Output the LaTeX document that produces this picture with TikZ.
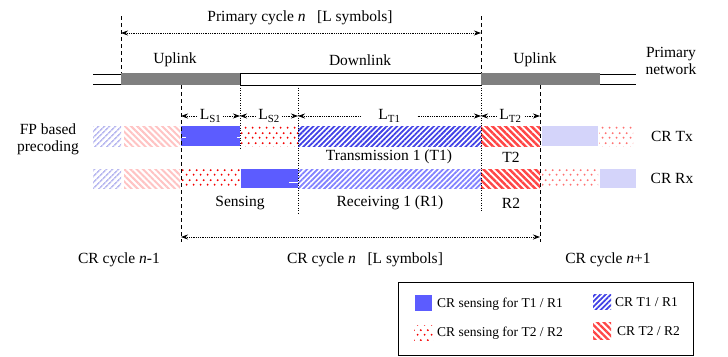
\documentclass[tikz,border=0pt]{standalone}
\usepackage{fontspec}
\setmainfont{Liberation Serif}
\usetikzlibrary{patterns.meta,arrows.meta}
\definecolor{sblue}{RGB}{92,92,255}
\definecolor{hblue}{RGB}{65,65,230}
\definecolor{hbluel}{RGB}{130,130,255}
\definecolor{hred}{RGB}{255,70,70}
\definecolor{dred}{RGB}{245,0,0}
\definecolor{lblue}{RGB}{185,185,240}
\definecolor{lpink}{RGB}{255,195,195}
\definecolor{lsolid}{RGB}{212,212,250}
\definecolor{ldot}{RGB}{255,115,115}
\definecolor{bargrey}{RGB}{128,128,128}
\tikzdeclarepattern{
  name=stagdots,
  type=uncolored,
  bounding box={(0pt,0pt) and (6.6pt,9.4pt)},
  tile size={(6.6pt,9.4pt)},
  code={
    \fill (1.65pt,2.35pt) circle (1.1pt);
    \fill (4.95pt,7.05pt) circle (1.1pt);
  }
}
\tikzset{
  lbl/.style={font=\fontsize{15.5}{17}\selectfont, inner sep=0pt},
  leg/.style={font=\fontsize{13.5}{15}\selectfont, inner sep=0pt, anchor=west},
  dimarrow/.style={densely dotted, line width=0.8pt,
    {Stealth[length=7pt,width=5pt]}-{Stealth[length=7pt,width=5pt]}},
  dimlbl/.style={font=\fontsize{15.5}{17}\selectfont, fill=white, inner xsep=2pt, inner ysep=0pt},
  bnd/.style={line width=0.9pt, dash pattern=on 4pt off 3pt},
  sepline/.style={line width=0.6pt, dash pattern=on 1pt off 1.5pt},
  bhatch/.style={pattern={Lines[angle=45,distance=3.7pt,line width=1.8pt]}, pattern color=hblue},
  bhatchl/.style={pattern={Lines[angle=45,distance=3.7pt,line width=1.8pt]}, pattern color=hbluel},
  rhatch/.style={pattern={Lines[angle=-45,distance=4.6pt,line width=2.4pt]}, pattern color=hred},
  lbhatch/.style={pattern={Lines[angle=45,distance=4pt,line width=1.7pt]}, pattern color=lblue},
  lphatch/.style={pattern={Lines[angle=-45,distance=4.4pt,line width=2pt]}, pattern color=lpink},
  rdots/.style={pattern=stagdots, pattern color=dred},
  ldots/.style={pattern=stagdots, pattern color=ldot},
}
\begin{document}
\begin{tikzpicture}[x=1pt,y=-1pt]
\path[use as bounding box, fill=white] (0,0) rectangle (728,356);

% ---------- primary network bar ----------
\draw[line width=0.8pt] (93,74) -- (121,74) (93,84) -- (121,84);
\draw[line width=0.8pt] (600,74) -- (636,74) (600,84) -- (636,84);
\fill[bargrey] (121,73) rectangle (240,85);
\draw[line width=0.9pt, fill=white] (240,73) rectangle (481,85);
\fill[bargrey] (481,73) rectangle (600,85);

\node[lbl] (ul1) at (175,60) {Uplink};
\node[lbl] (dl) at (360,60) {Downlink};
\node[lbl] (ul2) at (535,60) {Uplink};
\node[lbl, align=center] (pn) at (671,61) {Primary\\network};

% ---------- primary cycle ----------
\coordinate (pa) at (121,16);
\coordinate (pb) at (481,16);
\coordinate (pa2) at (121,73);
\coordinate (pb2) at (481,73);
\draw[bnd] (pa) -- (pa2);
\draw[bnd] (pb) -- (pb2);
\coordinate (pca) at (121,33);
\coordinate (pcb) at (481,33);
\draw[dimarrow] (pca) -- (pcb);
\node[lbl] (pc) at (300,18) {Primary cycle \textit{n}\hspace{0.75em}[L symbols]};

% ---------- CR Tx row ----------
\path[lbhatch] (93,126) rectangle (121,146);
\path[lphatch] (124,126) rectangle (180,146);
\fill[sblue] (181,126) rectangle (240,146);
\path[rdots] (240,126) rectangle (298,146);
\path[bhatch] (298,126) rectangle (481,146);
\path[rhatch] (481,126) rectangle (540,146);
\fill[lsolid] (542,126) rectangle (598,146);
\path[ldots] (599,126) rectangle (633,146);
\draw[white, line width=0.8pt] (181,137) -- (186,137) (237,137) -- (240,137);

% ---------- CR Rx row ----------
\path[lbhatch] (93,169) rectangle (121,188);
\path[lphatch] (124,169) rectangle (180,188);
\path[rdots] (181,169) rectangle (240,188);
\fill[sblue] (241,169) rectangle (298,188);
\path[bhatchl] (298,169) rectangle (481,188);
\path[rhatch] (481,169) rectangle (540,188);
\path[ldots] (542,169) rectangle (598,188);
\fill[lsolid] (600,169) rectangle (636,188);
\draw[white, line width=0.8pt] (289,182) -- (298,182);

% ---------- boundaries ----------
\coordinate (ca) at (181,85);
\coordinate (ca2) at (181,242);
\coordinate (cb) at (540,85);
\coordinate (cb2) at (540,242);
\draw[bnd] (ca) -- (ca2);
\draw[bnd] (cb) -- (cb2);
\coordinate (s1) at (240,85);
\coordinate (s1e) at (240,148);
\coordinate (s2) at (298,85);
\coordinate (s2e) at (298,213);
\coordinate (s3) at (481,85);
\coordinate (s3e) at (481,211);
\draw[sepline] (s1) -- (s1e);
\draw[sepline] (s2) -- (s2e);
\draw[sepline] (s3) -- (s3e);

% ---------- segment lengths ----------
\coordinate (d0) at (181,116);
\coordinate (d1) at (240,116);
\coordinate (d2) at (298,116);
\coordinate (d3) at (481,116);
\coordinate (d4) at (540,116);
\draw[dimarrow] (d0) -- node[dimlbl] (ls1) {L\textsubscript{S1}} (d1);
\draw[dimarrow] (d1) -- node[dimlbl] (ls2) {L\textsubscript{S2}} (d2);
\draw[dimarrow] (d2) -- node[dimlbl, inner xsep=16pt] (lt1) {L\textsubscript{T1}} (d3);
\draw[dimarrow] (d3) -- node[dimlbl] (lt2) {L\textsubscript{T2}} (d4);

% ---------- row labels ----------
\node[lbl, align=center] (fp) at (48,139) {FP based\\precoding};
\node[lbl] (tx) at (672,136) {CR Tx};
\node[lbl] (rx) at (672,178) {CR Rx};
\node[lbl] (t1) at (389,157) {Transmission 1 (T1)};
\node[lbl] (t2) at (511,157) {T2};
\node[lbl] (sens) at (240,203) {Sensing};
\node[lbl] (r1) at (390,203) {Receiving 1 (R1)};
\node[lbl] (r2) at (511,203) {R2};

% ---------- CR cycle ----------
\coordinate (cca) at (181,237);
\coordinate (ccb) at (540,237);
\draw[dimarrow] (cca) -- (ccb);
\node[lbl] (cn1) at (119,260) {CR cycle \textit{n}-1};
\node[lbl] (cn) at (365,260) {CR cycle \textit{n}\hspace{0.75em}[L symbols]};
\node[lbl] (cn2) at (608,260) {CR cycle \textit{n}+1};

% ---------- legend ----------
\draw[line width=0.8pt] (398,282) rectangle (693,355);
\fill[sblue] (415,295) rectangle (432,311);
\node[leg] (lg1) at (437,304) {CR sensing for T1 / R1};
\path[rdots] (414,325) rectangle (433,340);
\node[leg] (lg2) at (437,333) {CR sensing for T2 / R2};
\path[bhatch] (593,294) rectangle (611,309);
\node[leg] (lg3) at (615,302) {CR T1 / R1};
\path[rhatch] (593,322) rectangle (611,339);
\node[leg] (lg4) at (617,331) {CR T2 / R2};
\end{tikzpicture}
\end{document}
